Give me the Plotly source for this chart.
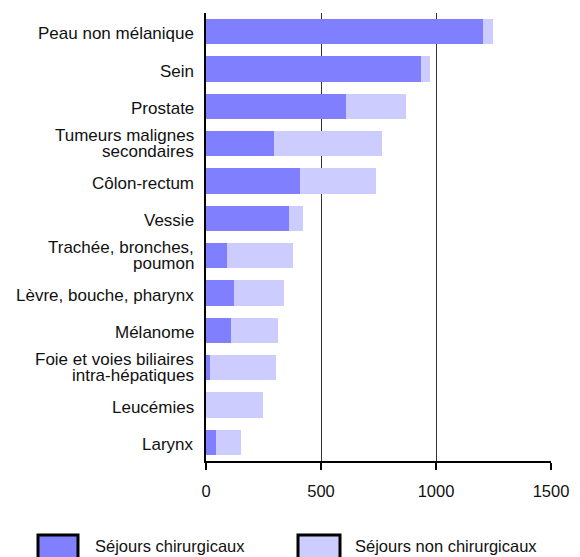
import plotly.graph_objects as go

categories = [
    "Peau non mélanique",
    "Sein",
    "Prostate",
    "Tumeurs malignes<br>secondaires",
    "Côlon-rectum",
    "Vessie",
    "Trachée, bronches,<br>poumon",
    "Lèvre, bouche, pharynx",
    "Mélanome",
    "Foie et voies biliaires<br>intra-hépatiques",
    "Leucémies",
    "Larynx",
]
sejours_chirurgicaux = [1205, 935, 609, 296, 409, 361, 91, 122, 109, 17, 0, 43]
sejours_non_chirurgicaux = [43, 39, 261, 469, 330, 61, 287, 217, 204, 287, 248, 109]
series_names = ["Séjours chirurgicaux", "Séjours non chirurgicaux"]
series_colors = ["#8080ff", "#ccccff"]
x_ticks = [0, 500, 1000, 1500]

FONT = "Liberation Sans, Arial, sans-serif"
TXT = "#111"

fig = go.Figure()
for name, vals, col in zip(series_names, [sejours_chirurgicaux, sejours_non_chirurgicaux], series_colors):
    fig.add_trace(go.Bar(
        y=categories, x=vals, name=name, orientation="h",
        marker=dict(color=col, line=dict(width=0)),
        showlegend=False,
    ))

# page body has an 8px margin, so the figure is sized to fit the window
fig.update_layout(
    barmode="stack",
    bargap=0.33,
    width=572, height=549,
    margin=dict(l=198, r=29, t=5, b=96),
    paper_bgcolor="white", plot_bgcolor="white",
    font=dict(family=FONT, size=16, color=TXT),
    xaxis=dict(
        range=[0, 1500], tickvals=x_ticks, ticktext=[str(v) for v in x_ticks],
        showgrid=True, gridcolor="#333", gridwidth=1,
        zeroline=False, automargin=False,
        showline=True, linecolor="black", linewidth=1.5,
        ticks="outside", ticklen=7, tickcolor="black", tickwidth=1.5,
        ticklabelstandoff=7,
        tickfont=dict(size=16.5, family=FONT, color=TXT),
        fixedrange=True,
    ),
    yaxis=dict(
        autorange="reversed", automargin=False,
        showline=True, linecolor="black", linewidth=1.5,
        ticks="", showgrid=False, showticklabels=False,
        fixedrange=True,
    ),
)

# screen-px helpers (plot area spans x 206..551, y 13..461 in the window)
W, H = 345.0, 448.0
def px(xp): return (xp - 206) / W
def py(yp): return (461 - yp) / H

# category labels with tight line spacing
for cat in categories:
    lines = cat.split("<br>")
    n = len(lines)
    for i, line in enumerate(lines):
        shift = -2 if n == 1 else (8 - 16 * i)
        fig.add_annotation(xref="paper", yref="y", x=px(196), y=cat,
                           text=line, showarrow=False, xanchor="right",
                           yanchor="middle", yshift=shift,
                           font=dict(size=17, family=FONT, color=TXT))

# custom legend
legend_boxes = [(38, 78, 93), (298, 340, 353)]
for (x0, x1, tx), name, col in zip(legend_boxes, series_names, series_colors):
    fig.add_shape(type="rect", xref="paper", yref="paper",
                  x0=px(x0), x1=px(x1), y0=py(535), y1=py(576),
                  fillcolor=col, line=dict(color="black", width=3))
    fig.add_annotation(xref="paper", yref="paper", x=px(tx), y=py(546),
                       text=name, showarrow=False, xanchor="left", yanchor="middle",
                       font=dict(size=16.5, family=FONT, color=TXT))

fig.write_html("out.html")
